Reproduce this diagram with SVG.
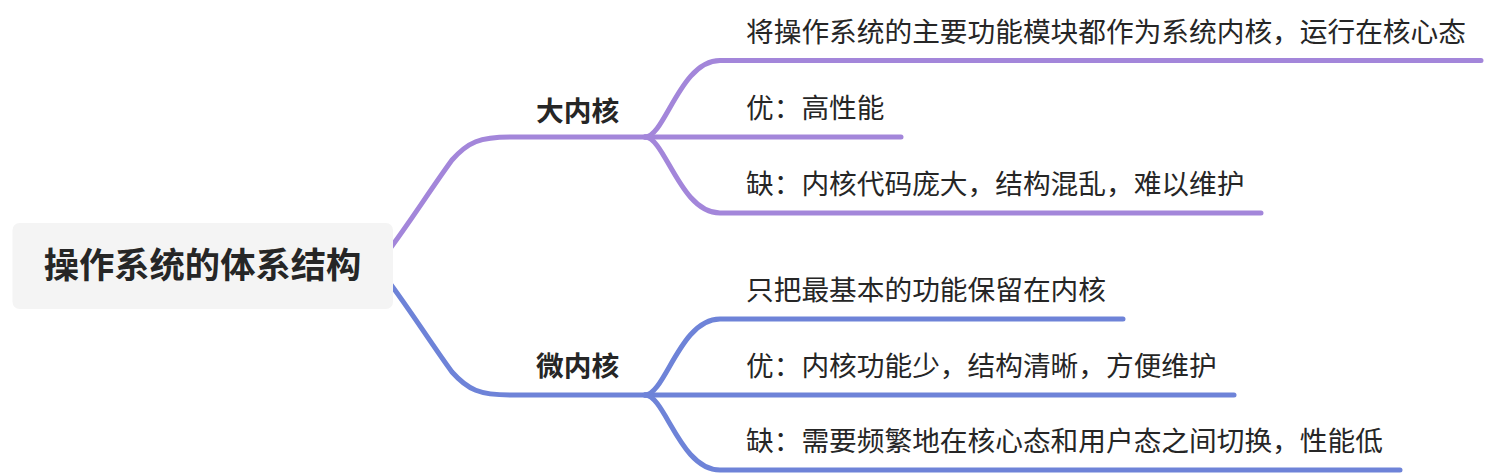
<svg xmlns="http://www.w3.org/2000/svg" width="1496" height="476" viewBox="0 0 1496 476">
<style>
.t{font-family:"Noto Sans CJK SC","Noto Sans",sans-serif;fill:#262626;}
.c{font-size:27.7px;}
.b{font-size:27.7px;font-weight:bold;}
.r{font-size:35.3px;font-weight:bold;}
.lp{fill:none;stroke:#A386DA;stroke-width:5;stroke-linecap:round;stroke-linejoin:round;}
.lb{fill:none;stroke:#6E83D8;stroke-width:5;stroke-linecap:round;stroke-linejoin:round;}
</style>
<rect width="1496" height="476" fill="#FFFFFF"/>
<g id="connectors">
<path class="lp" d="M 380 262 C 405 230, 430 190, 452 160 C 468 142, 480 137, 510 137 L 646 137"/>
<path class="lb" d="M 380 270 C 405 302, 430 342, 452 372 C 468 390, 480 395, 510 395 L 646 395"/>
<path class="lp" d="M 645 137 C 665 137, 680 60.5, 720 60.5 L 1481 60.5"/>
<path class="lp" d="M 645 137 L 901 137"/>
<path class="lp" d="M 645 137 C 665 137, 680 213, 720 213 L 1261 213"/>
<path class="lb" d="M 645 395 C 665 395, 680 319, 720 319 L 1123 319"/>
<path class="lb" d="M 645 395 L 1234 395"/>
<path class="lb" d="M 645 395 C 665 395, 680 470, 720 470 L 1400 470"/>
</g>
<g id="root">
<rect x="12.5" y="223" width="380.5" height="86" rx="7" fill="#F4F4F4"/>
<text class="t r" x="202.5" y="278.4" text-anchor="middle">操作系统的体系结构</text>
</g>
<g id="big-kernel">
<text class="t b" x="536" y="120.5">大内核</text>
</g>
<g id="micro-kernel">
<text class="t b" x="536" y="376">微内核</text>
</g>
<g id="big-1"><text class="t c" x="746" y="41.5">将操作系统的主要功能模块都作为系统内核，运行在核心态</text></g>
<g id="big-2"><text class="t c" x="746" y="118">优：高性能</text></g>
<g id="big-3"><text class="t c" x="746" y="194">缺：内核代码庞大，结构混乱，难以维护</text></g>
<g id="micro-1"><text class="t c" x="746" y="300">只把最基本的功能保留在内核</text></g>
<g id="micro-2"><text class="t c" x="746" y="376">优：内核功能少，结构清晰，方便维护</text></g>
<g id="micro-3"><text class="t c" x="746" y="451">缺：需要频繁地在核心态和用户态之间切换，性能低</text></g>
</svg>
